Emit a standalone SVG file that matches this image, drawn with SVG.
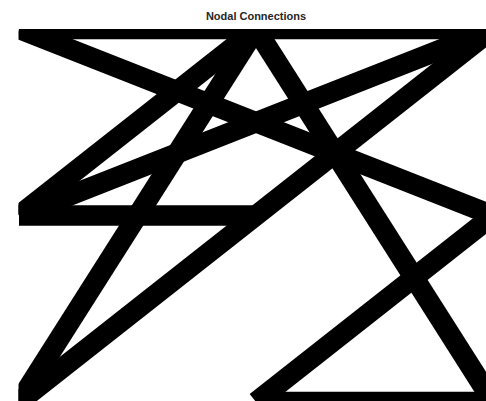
<svg xmlns="http://www.w3.org/2000/svg" width="486" height="401" viewBox="0 0 486 401">
<style>
.title{font-family:"Liberation Sans",Arial,sans-serif;font-weight:bold;font-size:11px;fill:#262626}
.edge{stroke:#000;stroke-width:20.5;stroke-linecap:butt;fill:none}
</style>
<defs>
<clipPath id="axes"><rect x="18.5" y="29" width="480" height="380"/></clipPath>
</defs>
<rect width="486" height="401" fill="#fff"/>
<text class="title" x="256" y="20" text-anchor="middle">Nodal Connections</text>
<g id="connectors" clip-path="url(#axes)">
<line class="edge" x1="19" y1="29" x2="493" y2="29"/>
<line class="edge" x1="19" y1="29" x2="493" y2="215.5"/>
<line class="edge" x1="19" y1="215.5" x2="493" y2="29"/>
<line class="edge" x1="19" y1="215.5" x2="256" y2="215.5"/>
<line class="edge" x1="19" y1="215.5" x2="256" y2="29"/>
<line class="edge" x1="256" y1="29" x2="19" y2="402"/>
<line class="edge" x1="256" y1="29" x2="493" y2="402"/>
<line class="edge" x1="19" y1="402" x2="493" y2="29"/>
<line class="edge" x1="493" y1="215.5" x2="256" y2="402"/>
<line class="edge" x1="256" y1="402" x2="493" y2="402"/>
</g>
<g id="n1"/><g id="n2"/><g id="n3"/><g id="n4"/><g id="n5"/><g id="n6"/><g id="n7"/><g id="n8"/><g id="n9"/>
</svg>
